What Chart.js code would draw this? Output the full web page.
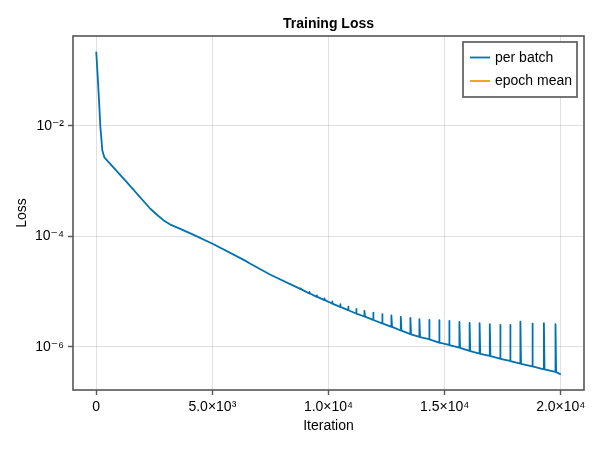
<!DOCTYPE html>
<html>
<head>
<meta charset="utf-8">
<title>Training Loss</title>
<script src="https://cdn.jsdelivr.net/npm/chart.js@4.4.1/dist/chart.umd.min.js"></script>
<style>
  html, body { margin: 0; padding: 0; background: #fff; }
  #wrap { width: 600px; height: 450px; }
</style>
</head>
<body>
<div id="wrap"><canvas id="lossChart" width="600" height="450"></canvas></div>
<script>
// iteration numbers of the per-batch loss trace
const iterations = [
  0, 47, 120, 176, 263, 349, 1323, 2328, 2616, 2902, 3190, 3621, 4195, 5030, 6350, 6638, 7500,
  8805, 8808, 8835,
  9175, 9178, 9205,
  9493, 9496, 9523,
  9821, 9824, 9851,
  10152, 10155, 10182,
  10497, 10500, 10527,
  10841, 10844, 10871,
  11185, 11188, 11215,
  11543, 11546, 11573,
  11917, 11920, 11947,
  12305, 12308, 12335,
  12705, 12708, 12735,
  13110, 13113, 13140,
  13523, 13526, 13553,
  13911, 13914, 13941,
  14328, 14331, 14358,
  14758, 14761, 14788,
  15189, 15192, 15219,
  15633, 15636, 15663,
  16072, 16075, 16102,
  16502, 16505, 16532,
  16941, 16944, 16971,
  17385, 17388, 17415,
  17815, 17818, 17845,
  18259, 18262, 18289,
  18771, 18774, 18801,
  19271, 19274, 19301,
  19770, 19773, 19800,
  20000
];

// loss per batch at those iterations
const lossPerBatch = [
  0.22, 0.103, 0.0294, 0.01, 0.0036, 0.0027, 9.5e-4, 3.17e-4, 2.47e-4, 1.95e-4, 1.64e-4, 1.37e-4, 1.07e-4, 7.3e-5, 3.76e-5, 3.2e-5, 2.03e-5,
  1.11e-5, 1.15e-5, 1.10e-5,
  9.27e-6, 9.95e-6, 9.25e-6,
  8.07e-6, 8.53e-6, 8.05e-6,
  7.05e-6, 7.53e-6, 7.03e-6,
  6.11e-6, 6.64e-6, 6.09e-6,
  5.32e-6, 5.96e-6, 5.30e-6,
  4.63e-6, 5.38e-6, 4.61e-6,
  4.02e-6, 4.90e-6, 4.00e-6,
  3.55e-6, 4.50e-6, 3.53e-6,
  3.09e-6, 4.19e-6, 3.07e-6,
  2.67e-6, 3.92e-6, 2.66e-6,
  2.31e-6, 3.73e-6, 2.30e-6,
  1.98e-6, 3.50e-6, 1.97e-6,
  1.70e-6, 3.36e-6, 1.69e-6,
  1.52e-6, 3.18e-6, 1.51e-6,
  1.38e-6, 3.09e-6, 1.37e-6,
  1.20e-6, 3.05e-6, 1.19e-6,
  1.09e-6, 2.97e-6, 1.08e-6,
  9.71e-7, 2.84e-6, 9.65e-7,
  8.46e-7, 2.73e-6, 8.41e-7,
  7.56e-7, 2.69e-6, 7.52e-7,
  6.87e-7, 2.58e-6, 6.83e-7,
  6.13e-7, 2.51e-6, 6.10e-7,
  5.57e-7, 2.51e-6, 5.54e-7,
  4.98e-7, 2.88e-6, 4.95e-7,
  4.46e-7, 2.65e-6, 4.43e-7,
  3.94e-7, 2.69e-6, 3.92e-7,
  3.52e-7, 2.58e-6, 3.50e-7,
  3.19e-7
];

// epoch mean series: listed in the legend, no visible trace in the plot
const epochMean = [];

const xTickValues = [0, 5000, 10000, 15000, 20000];
const xTickLabels = ["0", "5.0×10³", "1.0×10⁴", "1.5×10⁴", "2.0×10⁴"];
const yTickValues = [1e-6, 1e-4, 1e-2];
const yTickLabels = ["10⁻⁶", "10⁻⁴", "10⁻²"];

const FONT = "'Liberation Sans', Arial, 'DejaVu Sans', sans-serif";
const BLUE = "#0072b2";
const ORANGE = "#e69f00";
const FRAME = "#555555";
const GRID = "rgba(0, 0, 0, 0.12)";

// frame, title and legend drawn the way the plotting lib laid them out
const decorPlugin = {
  id: "decor",
  afterDraw(chart) {
    const { ctx, chartArea: a } = chart;
    ctx.save();

    ctx.strokeStyle = FRAME;
    ctx.lineWidth = 1.6;
    ctx.strokeRect(a.left, a.top, a.right - a.left, a.bottom - a.top);

    ctx.fillStyle = "#000";
    ctx.font = "bold 14px " + FONT;
    ctx.textAlign = "center";
    ctx.textBaseline = "middle";
    ctx.fillText("Training Loss", (a.left + a.right) / 2, 24);

    // legend box, top right inside the plot
    const bx = a.right - 121, by = a.top + 6, bw = 114, bh = 55;
    ctx.fillStyle = "#fff";
    ctx.fillRect(bx, by, bw, bh);
    ctx.strokeStyle = "#666";
    ctx.lineWidth = 1.8;
    ctx.strokeRect(bx, by, bw, bh);

    ctx.font = "14px " + FONT;
    ctx.textAlign = "left";
    chart.data.datasets.forEach((ds, i) => {
      const y = by + 15.5 + i * 23.5;
      ctx.strokeStyle = ds.borderColor;
      ctx.lineWidth = 1.8;
      ctx.beginPath();
      ctx.moveTo(bx + 7, y);
      ctx.lineTo(bx + 27, y);
      ctx.stroke();
      ctx.fillStyle = "#000";
      ctx.fillText(ds.label, bx + 32, y + 0.5);
    });

    ctx.restore();
  },
};

const ctx = document.getElementById("lossChart").getContext("2d");

new Chart(ctx, {
  type: "line",
  data: {
    datasets: [
      {
        label: "per batch",
        data: iterations.map((it, i) => ({ x: it, y: lossPerBatch[i] })),
        borderColor: BLUE,
        borderWidth: 1.8,
        borderJoinStyle: "round",
        pointRadius: 0,
        tension: 0,
        fill: false,
      },
      {
        label: "epoch mean",
        data: epochMean,
        borderColor: ORANGE,
        borderWidth: 1.8,
        pointRadius: 0,
        fill: false,
      },
    ],
  },
  options: {
    responsive: false,
    animation: false,
    devicePixelRatio: 1,
    layout: { padding: { top: 36, right: 16, left: 0, bottom: 0 } },
    plugins: {
      legend: { display: false },
      tooltip: { enabled: false },
      title: { display: false },
    },
    scales: {
      x: {
        type: "linear",
        min: -1000,
        max: 21000,
        afterBuildTicks: (scale) => {
          scale.ticks = xTickValues.map((v) => ({ value: v }));
        },
        afterFit: (scale) => {
          scale.height = 60;
        },
        ticks: {
          autoSkip: false,
          maxRotation: 0,
          padding: 4,
          color: "#000",
          font: { family: FONT, size: 14 },
          callback: (value, index) => xTickLabels[index],
        },
        grid: {
          color: GRID,
          lineWidth: 1,
          tickColor: FRAME,
          tickLength: 5,
          tickWidth: 1.4,
        },
        border: { display: false },
        title: {
          display: true,
          text: "Iteration",
          color: "#000",
          font: { family: FONT, size: 14 },
          padding: { top: 0, bottom: 15 },
        },
      },
      y: {
        type: "logarithmic",
        min: 1.66e-7,
        max: 0.425,
        afterBuildTicks: (scale) => {
          scale.ticks = yTickValues.map((v) => ({ value: v, major: true }));
        },
        afterFit: (scale) => {
          scale.width = 73;
        },
        ticks: {
          autoSkip: false,
          padding: 4,
          color: "#000",
          font: { family: FONT, size: 14 },
          callback: (value, index) => yTickLabels[index],
        },
        grid: {
          color: GRID,
          lineWidth: 1,
          tickColor: FRAME,
          tickLength: 5,
          tickWidth: 1.4,
        },
        border: { display: false },
        title: {
          display: true,
          text: "Loss",
          color: "#000",
          font: { family: FONT, size: 14 },
          padding: { top: 14, bottom: 0 },
        },
      },
    },
  },
  plugins: [decorPlugin],
});
</script>
</body>
</html>
